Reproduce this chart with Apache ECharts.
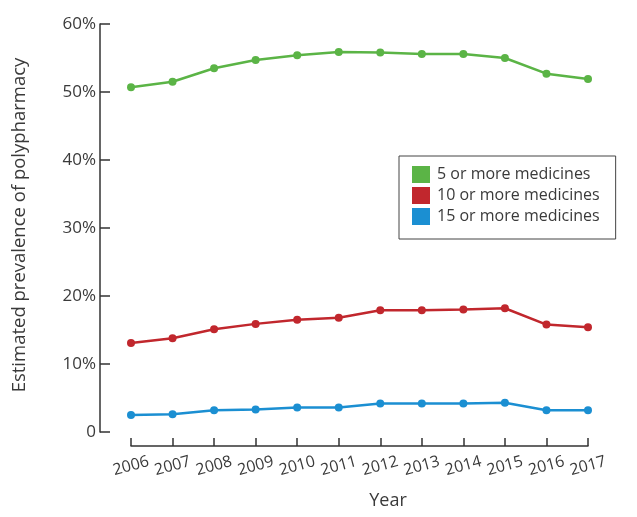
<!DOCTYPE html>
<html>
<head>
<meta charset="utf-8">
<script src="https://cdn.jsdelivr.net/npm/echarts@6/dist/echarts.min.js"></script>
<style>
html,body{margin:0;padding:0;background:#fff;}
#c{width:637px;height:517px;}
</style>
</head>
<body>
<div id="c"></div>
<script>
const years = ['2006','2007','2008','2009','2010','2011','2012','2013','2014','2015','2016','2017'];
const fivePlus = [50.7, 51.5, 53.5, 54.7, 55.4, 55.9, 55.8, 55.6, 55.6, 55.0, 52.7, 51.9];
const tenPlus = [13.1, 13.8, 15.1, 15.9, 16.5, 16.8, 17.9, 17.9, 18.0, 18.2, 15.8, 15.4];
const fifteenPlus = [2.5, 2.6, 3.2, 3.3, 3.6, 3.6, 4.2, 4.2, 4.2, 4.3, 3.2, 3.2];
const seriesNames = ['5 or more medicines', '10 or more medicines', '15 or more medicines'];
const colors = ['#5bb446', '#c1272d', '#1b8fd2'];

const FONT = 'Open Sans';
const TXT = '#3a3a3a';
const chart = echarts.init(document.getElementById('c'));

function mk(name, data, color) {
  return {
    name: name, type: 'line', data: data,
    symbol: 'circle', symbolSize: 8,
    lineStyle: {color: color, width: 2.5},
    itemStyle: {color: color},
    emphasis: {disabled: true}
  };
}

chart.setOption({
  animation: false,
  color: colors,
  textStyle: {fontFamily: FONT},
  grid: {left: 131, right: 49, top: 24, bottom: 85},
  legend: {
    orient: 'vertical', left: 399, top: 156,
    padding: [10, 16, 14, 13],
    borderColor: '#444', borderWidth: 1,
    itemWidth: 18, itemHeight: 17, itemGap: 4,
    icon: 'rect',
    textStyle: {fontFamily: FONT, fontSize: 16, color: TXT, padding: [0, 0, 0, 2]},
    data: seriesNames
  },
  xAxis: {
    type: 'category', data: years, boundaryGap: false,
    offset: 14,
    axisLine: {onZero: false, lineStyle: {color: '#333', width: 1.5}},
    axisTick: {inside: true, length: 8, interval: 0, lineStyle: {color: '#333', width: 1.5}},
    axisLabel: {
      rotate: 15, align: 'center', verticalAlign: 'middle', margin: 20, interval: 0,
      fontFamily: FONT, fontSize: 16, color: TXT
    },
    splitLine: {show: false}
  },
  yAxis: {
    type: 'value', min: 0, max: 60, interval: 10,
    offset: 31,
    axisLine: {show: true, lineStyle: {color: '#333', width: 1.5}},
    axisTick: {show: true, inside: true, length: 10, lineStyle: {color: '#333', width: 1.5}},
    axisLabel: {
      margin: 4, fontFamily: FONT, fontSize: 17, color: TXT,
      formatter: v => v === 0 ? '0' : v + '%'
    },
    splitLine: {show: false}
  },
  graphic: [
    {type: 'text', x: 20, y: 225, rotation: Math.PI / 2,
     style: {text: 'Estimated prevalence of polypharmacy', fontFamily: FONT, fontSize: 18.5,
             fill: TXT, align: 'center', verticalAlign: 'middle'}},
    {type: 'text', x: 388, y: 501,
     style: {text: 'Year', fontFamily: FONT, fontSize: 18, fill: TXT,
             align: 'center', verticalAlign: 'middle'}}
  ],
  series: [
    mk(seriesNames[0], fivePlus, colors[0]),
    mk(seriesNames[1], tenPlus, colors[1]),
    mk(seriesNames[2], fifteenPlus, colors[2])
  ]
});
</script>
</body>
</html>
